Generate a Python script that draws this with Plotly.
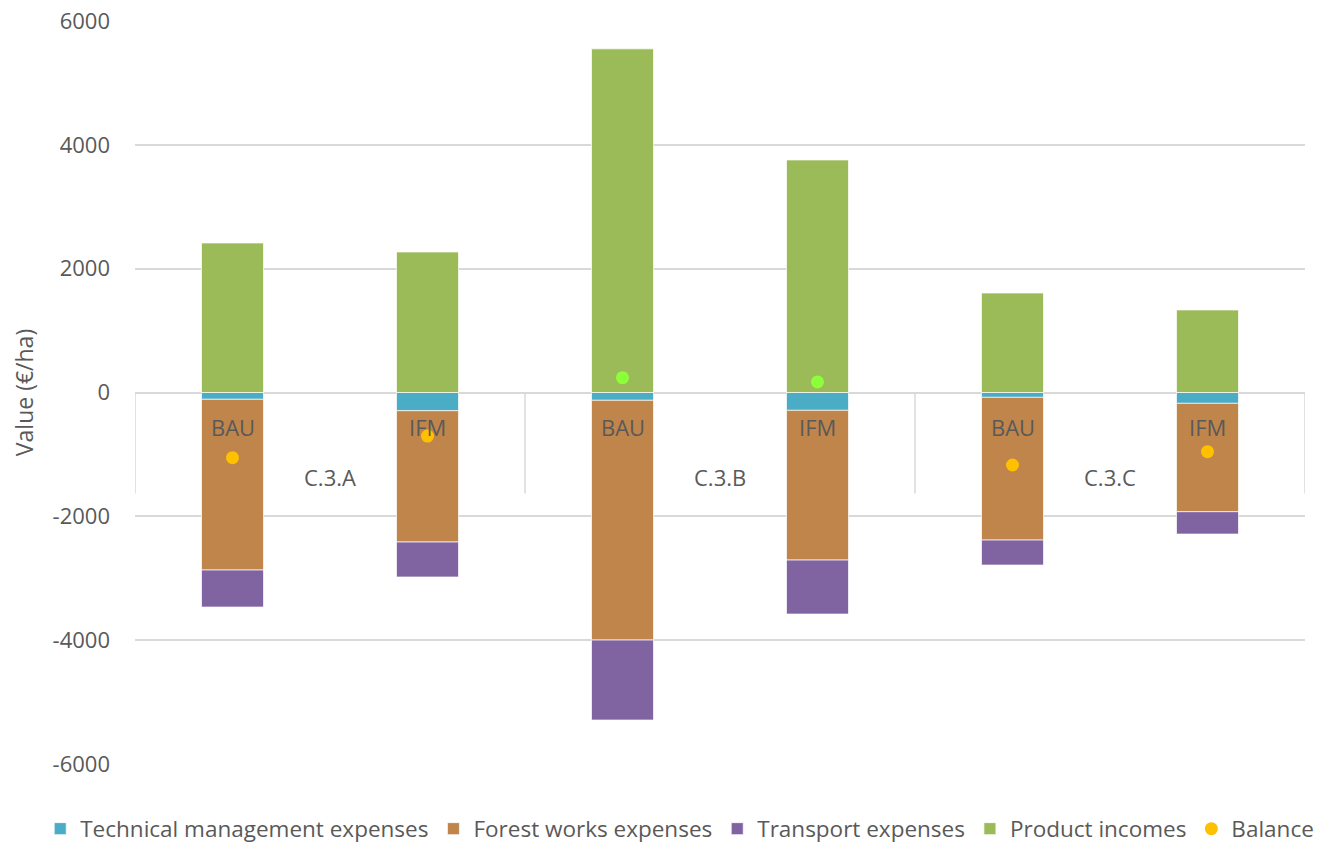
import plotly.graph_objects as go

# Case studies and management scenarios
groups = ["C.3.A", "C.3.B", "C.3.C"]
scenarios = ["BAU", "IFM"]
categories = [f"{g} {s}" for g in groups for s in scenarios]

# Values in €/ha (expenses negative, incomes positive)
technical = [-110, -294, -126, -288, -78, -175]
forest_works = [-2757, -2121, -3872, -2418, -2305, -1750]
transport = [-598, -565, -1292, -872, -404, -361]
product_incomes = [2415, 2270, 5550, 3756, 1607, 1333]
balance = [-1053, -703, 239, 170, -1171, -956]

y_ticks = [-6000, -4000, -2000, 0, 2000, 4000, 6000]
y_tick_labels = [str(v) for v in y_ticks]

TEXT = "#595959"
GRID = "#D9D9D9"
FONT = "Open Sans"

series = [
    ("Technical management expenses", technical, "#4BACC6"),
    ("Forest works expenses", forest_works, "#C0854A"),
    ("Transport expenses", transport, "#8064A2"),
    ("Product incomes", product_incomes, "#9BBB59"),
]

fig = go.Figure()
for name, vals, color in series:
    fig.add_trace(go.Bar(
        x=categories, y=vals, name=name,
        marker=dict(color=color, line=dict(color="rgba(255,255,255,0.7)", width=1)),
    ))

balance_colors = ["#FFC000" if v < 0 else "#8CFF3A" for v in balance]
fig.add_trace(go.Scatter(
    x=categories, y=balance, name="Balance", mode="markers",
    marker=dict(color=balance_colors, size=13, symbol="circle"),
))

# Two-level category labels drawn along the zero line
annotations = []
for i, cat in enumerate(categories):
    annotations.append(dict(
        x=cat, y=-560, xref="x", yref="y", text=cat.split(" ")[1],
        showarrow=False, yanchor="middle",
        font=dict(family=FONT, size=22, color=TEXT),
    ))
for gi, g in enumerate(groups):
    annotations.append(dict(
        x=gi * len(scenarios) + (len(scenarios) - 1) / 2, y=-1365, xref="x", yref="y",
        text=g, showarrow=False, yanchor="middle",
        font=dict(family=FONT, size=22, color=TEXT),
    ))

shapes = []
for k in range(len(groups) + 1):
    xpos = k * len(scenarios) - 0.5
    shapes.append(dict(
        type="line", xref="x", yref="y", x0=xpos, x1=xpos, y0=0, y1=-1630,
        line=dict(color=GRID, width=1.5), layer="below",
    ))

fig.update_layout(
    width=1324, height=844,
    barmode="relative",
    bargap=0.682,
    plot_bgcolor="white", paper_bgcolor="white",
    margin=dict(l=135, r=19, t=21, b=80, autoexpand=False),
    font=dict(family=FONT, color=TEXT, size=22),
    annotations=annotations,
    shapes=shapes,
    legend=dict(
        orientation="h",
        x=-0.081, xanchor="left", y=-0.0875, yanchor="middle",
        font=dict(family=FONT, size=22.5, color=TEXT),
        itemwidth=30, traceorder="normal",
    ),
    xaxis=dict(
        type="category", range=[-0.5, 5.5],
        showticklabels=False, showgrid=False, zeroline=False, showline=False,
    ),
    yaxis=dict(
        range=[-6000, 6000], tickvals=y_ticks, ticktext=y_tick_labels,
        showgrid=True, gridcolor=GRID, gridwidth=1.5,
        zeroline=True, zerolinecolor=GRID, zerolinewidth=1.5,
        showline=False, ticks="", ticklabelstandoff=24,
        tickfont=dict(family=FONT, size=22, color=TEXT),
        title=dict(text="Value (€/ha)", font=dict(family=FONT, size=23, color=TEXT), standoff=12),
    ),
)

fig.write_html("out.html")
